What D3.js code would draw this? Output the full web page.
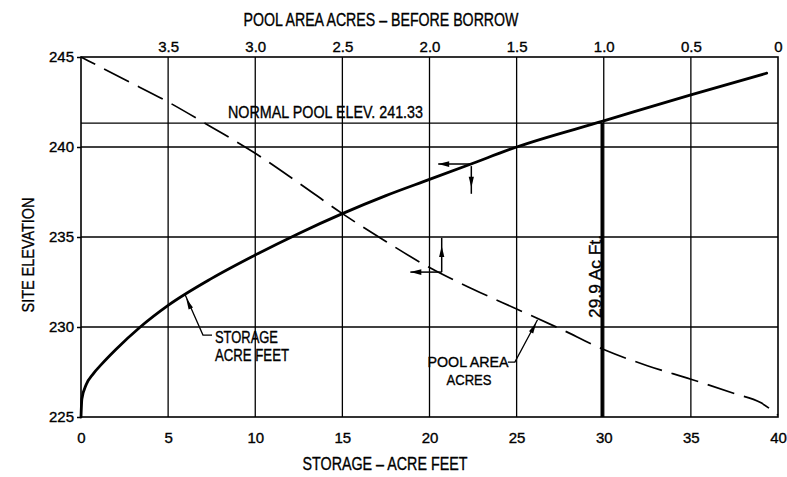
<!DOCTYPE html>
<html>
<head>
<meta charset="utf-8">
<script src="https://cdn.jsdelivr.net/npm/d3@7"></script>
<style>
  html, body { margin: 0; padding: 0; background: #fff; }
  svg { display: block; }
  text { fill: #000; stroke: #000; stroke-width: 0.35px; font-family: 'Liberation Sans Narrow', 'Liberation Sans', Arial, sans-serif; }
  .tick text { font-family: 'Liberation Sans', Arial, sans-serif; font-size: 15px; }
</style>
</head>
<body>
<svg id="chart" width="787" height="477"></svg>
<script>
// ---- data ----
const storageTicks = [0, 5, 10, 15, 20, 25, 30, 35, 40];
const elevationTicks = [225, 230, 235, 240, 245];
const areaTicks = [3.5, 3.0, 2.5, 2.0, 1.5, 1.0, 0.5, 0];
const areaTickLabels = ["3.5", "3.0", "2.5", "2.0", "1.5", "1.0", "0.5", "0"];

// Storage curve (acre-feet vs site elevation)
const storageAF = [0, 0.05, 0.3, 0.7, 1.2, 2.0, 3.4, 5.0, 7.5, 10, 12.5, 15, 17.5, 20, 22.5, 25, 30, 35, 39.35];
const storageElev = [225, 226.0, 226.8, 227.4, 227.95, 228.75, 230.0, 231.2, 232.7, 234.0, 235.2, 236.3, 237.3, 238.2, 239.1, 240.0, 241.45, 242.9, 244.1];

// Pool area curve (acres vs site elevation)
const poolAcres = [4.0, 3.75, 3.5, 3.25, 3.0, 2.75, 2.5, 2.25, 2.0, 1.75, 1.5, 1.25, 1.0, 0.75, 0.5, 0.25, 0.1, 0];
const poolElev = [245.0, 243.75, 242.5, 241.1, 239.65, 238.0, 236.3, 234.75, 233.3, 232.1, 231.0, 229.9, 228.75, 227.85, 227.1, 226.3, 225.8, 225.1];

const normalPoolElev = 241.33;
const normalPoolLabel = "NORMAL POOL ELEV. 241.33";
const storageAtNormalPool = 29.9;
const storageAtNormalPoolLabel = "29.9 Ac Ft.";
const topTitle = "POOL AREA ACRES \u2013 BEFORE BORROW";
const bottomTitle = "STORAGE \u2013 ACRE FEET";
const leftTitle = "SITE ELEVATION";
const storageLabel = ["STORAGE", "ACRE FEET"];
const poolLabel = ["POOL AREA", "ACRES"];

// ---- layout ----
const svg = d3.select("#chart");
const L = 81, R = 778, T = 57, B = 417;

const x = d3.scaleLinear().domain([0, 40]).range([L, R]);
const xTop = d3.scaleLinear().domain([4, 0]).range([L, R]);
const y = d3.scaleLinear().domain([225, 245]).range([B, T]);

// gridlines
const grid = svg.append("g").attr("stroke", "#000").attr("stroke-width", 1.3);
grid.selectAll("line.v").data(storageTicks.filter(d => d > 0 && d < 40)).join("line")
  .attr("x1", d => x(d)).attr("x2", d => x(d)).attr("y1", T).attr("y2", B);
grid.selectAll("line.h").data(elevationTicks.filter(d => d > 225 && d < 245)).join("line")
  .attr("class", "h")
  .attr("x1", L).attr("x2", R).attr("y1", d => y(d)).attr("y2", d => y(d));
grid.append("line").attr("x1", L).attr("x2", R)
  .attr("y1", y(normalPoolElev)).attr("y2", y(normalPoolElev));

// frame
svg.append("rect").attr("x", L).attr("y", T).attr("width", R - L).attr("height", B - T)
  .attr("fill", "none").attr("stroke", "#000").attr("stroke-width", 1.6);

// axes
const axL = svg.append("g").attr("transform", `translate(${L},0)`)
  .call(d3.axisLeft(y).tickValues(elevationTicks).tickSize(4).tickPadding(3).tickFormat(d3.format("d")));
const axB = svg.append("g").attr("transform", `translate(0,${B})`)
  .call(d3.axisBottom(x).tickValues(storageTicks).tickSize(0).tickPadding(15).tickFormat(d3.format("d")));
const axT = svg.append("g").attr("transform", `translate(0,${T})`)
  .call(d3.axisTop(xTop).tickValues(areaTicks).tickSize(0).tickPadding(5)
    .tickFormat((d, i) => areaTickLabels[i]));
[axL, axB, axT].forEach(a => {
  a.select(".domain").remove();
  a.selectAll(".tick line").attr("stroke", "#000").attr("stroke-width", 1.5);
  a.selectAll(".tick text").attr("fill", "#000");
});

// thick line at 29.9 Ac Ft
svg.append("line")
  .attr("x1", x(storageAtNormalPool)).attr("x2", x(storageAtNormalPool))
  .attr("y1", y(normalPoolElev)).attr("y2", y(225))
  .attr("stroke", "#000").attr("stroke-width", 3);

// storage curve
const storagePts = storageAF.map((s, i) => [x(s), y(storageElev[i])]);
svg.append("path").datum(storagePts)
  .attr("d", d3.line().curve(d3.curveMonotoneX))
  .attr("fill", "none").attr("stroke", "#000").attr("stroke-width", 2.8)
  .attr("stroke-linejoin", "round").attr("stroke-linecap", "round");

// pool area curve
const poolPts = poolAcres.map((a, i) => [xTop(a), y(poolElev[i])]);
svg.append("path").datum(poolPts)
  .attr("d", d3.line().curve(d3.curveMonotoneX))
  .attr("fill", "none").attr("stroke", "#000").attr("stroke-width", 1.7)
  .attr("stroke-dasharray", "28,10").attr("stroke-dashoffset", 12);

// arrow helpers
function arrowHead(tip, from, len = 10, half = 2.6) {
  const dx = tip[0] - from[0], dy = tip[1] - from[1];
  const d = Math.hypot(dx, dy) || 1;
  const ux = dx / d, uy = dy / d;
  const bx = tip[0] - ux * len, by = tip[1] - uy * len;
  svg.append("path")
    .attr("d", `M${tip[0]},${tip[1]}L${bx - uy * half},${by + ux * half}L${bx + uy * half},${by - ux * half}Z`)
    .attr("fill", "#000");
}
function polyline(pts, w = 1.4) {
  svg.append("path").attr("d", d3.line()(pts))
    .attr("fill", "none").attr("stroke", "#000").attr("stroke-width", w);
}

// indicators on storage curve
{
  const a = [x(22.4), y(239.05)];
  const h = [x(20.5), y(239.05)];
  const v = [x(22.4), y(237.4)];
  polyline([a, h], 1.5); arrowHead(h, a, 11, 2.8);
  polyline([[a[0], a[1] + 2], v], 1.5); arrowHead([v[0], v[1] - 6], [a[0], a[1]], 11, 2.6);
}
// indicators on pool area curve
{
  const a = [x(20.7), y(233.05)];
  const h = [x(18.9), y(233.05)];
  const v = [x(20.7), y(234.95)];
  polyline([a, h], 1.5); arrowHead(h, a, 11, 2.8);
  polyline([a, v], 1.5); arrowHead([v[0], v[1] + 8], a, 11, 2.6);
}

// leader for storage label
{
  const p0 = [x(7.52), y(229.55)], p1 = [x(7.0), y(229.55)], tip = [x(5.97), y(231.8)];
  polyline([p0, p1, tip], 1.3);
  arrowHead([tip[0] + 1.2, tip[1] + 4], p1, 11, 2.4);
}
// leader for pool label
{
  const p0 = [x(24.5), y(228.05)], p1 = [x(24.9), y(228.05)], tip = [x(26.2), y(230.4)];
  polyline([p0, p1, tip], 1.3);
  arrowHead([tip[0] - 1.2, tip[1] + 3], p1, 11, 2.4);
}

// ---- text ----
function label(txt, px, py, size, opts = {}) {
  const t = svg.append("text").attr("x", px).attr("y", py).attr("font-size", size)
    .attr("text-anchor", opts.anchor || "start").text(txt);
  if (opts.len) t.attr("textLength", opts.len).attr("lengthAdjust", "spacingAndGlyphs");
  if (opts.rotate) t.attr("transform", `rotate(-90,${px},${py})`);
  if (opts.family) t.style("font-family", opts.family);
  return t;
}
label(topTitle, 381, 26, 18, { anchor: "middle", len: 275 });
label(bottomTitle, 385, 470, 18, { anchor: "middle", len: 165 });
label(leftTitle, 34, 255, 16, { anchor: "middle", len: 115, rotate: true });
label(normalPoolLabel, 228, 118, 17, { len: 195 });
label(storageLabel[0], 215, 343, 16, { len: 63 });
label(storageLabel[1], 215, 361, 16, { len: 74 });
label(poolLabel[0], 468, 367, 15.5, { anchor: "middle", len: 81 });
label(poolLabel[1], 469, 385, 15.5, { anchor: "middle", len: 45 });
label(storageAtNormalPoolLabel, 601, 318, 16.5, { len: 83, rotate: true, family: "'Liberation Sans', Arial, sans-serif" });
</script>
</body>
</html>
